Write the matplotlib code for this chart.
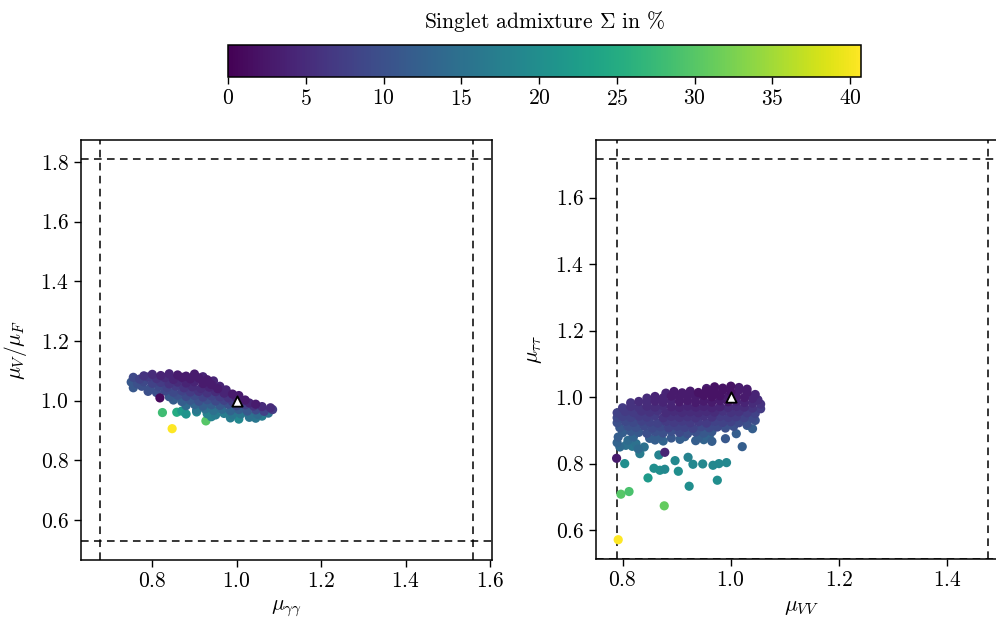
import numpy as np
import matplotlib
matplotlib.use("Agg")
import matplotlib.pyplot as plt

plt.rcParams["font.family"] = ["cmr10", "DejaVu Serif"]
plt.rcParams["mathtext.fontset"] = "cm"
plt.rcParams["axes.formatter.use_mathtext"] = True
plt.rcParams["font.size"] = 15.5

# ---- left panel: mu_gamgam vs mu_V/mu_F, colour = singlet admixture (%)
gg_x = [
    0.78, 0.80, 0.82, 0.84, 0.86, 0.88, 0.90, 0.92,
    0.755, 0.77, 0.79, 0.81, 0.83, 0.85, 0.87, 0.89, 0.91, 0.93, 0.945,
    0.75, 0.765, 0.78, 0.80, 0.82, 0.84, 0.86, 0.88, 0.90, 0.92, 0.94, 0.96,
    0.755, 0.775, 0.795, 0.815, 0.835, 0.855, 0.875, 0.895, 0.915, 0.935, 0.955, 0.975,
    0.79, 0.81, 0.83, 0.85, 0.87, 0.89, 0.91, 0.93, 0.95, 0.97, 0.99, 1.005,
    0.84, 0.86, 0.88, 0.90, 0.92, 0.94, 0.96, 0.98, 1.00, 1.02,
    0.85, 0.87, 0.89, 0.91, 0.93, 0.95, 0.97, 0.99, 1.01, 1.03, 1.045,
    0.88, 0.90, 0.92, 0.94, 0.96, 0.98, 1.00, 1.02, 1.04, 1.06, 1.08,
    0.905, 0.925, 0.945, 0.965, 0.985, 1.005, 1.025, 1.045, 1.065, 1.085,
    0.93, 0.95, 0.97, 0.99, 1.01, 1.03, 1.05,
    0.985, 1.005, 1.045,
    0.905, 0.94, 1.06, 1.03, 1.075,
    0.87, 0.88,
    0.818, 0.824, 0.858, 0.927, 0.847,
]
gg_y = [
    1.083, 1.088, 1.084, 1.090, 1.086, 1.082, 1.089, 1.080,
    1.078, 1.072, 1.079, 1.074, 1.077, 1.071, 1.078, 1.073, 1.076, 1.070, 1.066,
    1.062, 1.057, 1.063, 1.058, 1.061, 1.056, 1.062, 1.059, 1.063, 1.057, 1.054, 1.048,
    1.043, 1.048, 1.042, 1.047, 1.044, 1.049, 1.043, 1.046, 1.041, 1.045, 1.040, 1.036,
    1.031, 1.027, 1.032, 1.028, 1.033, 1.029, 1.031, 1.026, 1.030, 1.025, 1.022, 1.017,
    1.013, 1.018, 1.014, 1.017, 1.012, 1.016, 1.013, 1.010, 1.008, 1.002,
    1.002, 0.997, 1.001, 0.998, 1.003, 0.999, 1.001, 0.997, 0.995, 0.992, 0.988,
    0.983, 0.987, 0.982, 0.986, 0.984, 0.988, 0.983, 0.986, 0.982, 0.980, 0.976,
    0.968, 0.972, 0.967, 0.971, 0.966, 0.970, 0.965, 0.969, 0.964, 0.970,
    0.956, 0.952, 0.957, 0.953, 0.955, 0.950, 0.954,
    0.942, 0.938, 0.941,
    0.962, 0.946, 0.948, 0.944, 0.958,
    0.965, 0.955,
    1.009, 0.960, 0.961, 0.932, 0.906,
]
gg_s = [
    6, 5, 4, 4, 3, 3, 3, 4,
    9, 8, 7, 6, 5, 4, 3, 3, 3, 3, 4,
    11, 10, 9, 8, 7, 6, 5, 4, 4, 3, 3, 4,
    11, 10, 10, 9, 8, 7, 6, 5, 5, 4, 3, 4,
    10, 10, 9, 9, 8, 7, 6, 6, 5, 4, 3, 3,
    11, 10, 9, 9, 8, 8, 7, 6, 4, 3,
    12, 12, 11, 10, 10, 9, 8, 7, 6, 4, 3,
    14, 13, 12, 12, 11, 10, 9, 8, 6, 5, 5,
    16, 15, 15, 14, 13, 12, 11, 9, 8, 7,
    18, 17, 17, 16, 16, 15, 14,
    17, 19, 16,
    19, 18, 17, 16, 15,
    22, 21,
    1, 28, 25, 30, 40.7,
]

# ---- right panel: mu_VV vs mu_tautau
vv_x = [
    0.955, 0.97, 0.985, 1.0, 1.015, 1.03,
    0.88, 0.895, 0.91, 0.925, 0.94, 0.955, 0.97, 0.985, 1.0, 1.015, 1.03, 1.045,
    0.845, 0.86, 0.875, 0.89, 0.905, 0.92, 0.935, 0.95, 0.965, 0.98, 0.995, 1.01, 1.025, 1.04, 1.05,
    0.815, 0.83, 0.845, 0.86, 0.875, 0.89, 0.905, 0.92, 0.935, 0.95, 0.965, 0.98, 0.995, 1.01, 1.025, 1.04, 1.055,
    0.80, 0.815, 0.83, 0.845, 0.86, 0.875, 0.89, 0.905, 0.92, 0.935, 0.95, 0.965, 0.98, 0.995, 1.01, 1.025, 1.04, 1.055,
    0.79, 0.805, 0.82, 0.835, 0.85, 0.865, 0.88, 0.895, 0.91, 0.925, 0.94, 0.955, 0.97, 0.985, 1.0, 1.015, 1.03, 1.045,
    0.79, 0.80, 0.815, 0.83, 0.845, 0.86, 0.875, 0.89, 0.905, 0.92, 0.935, 0.95, 0.965, 0.98, 0.995, 1.01, 1.025, 1.04,
    0.79, 0.805, 0.82, 0.835, 0.85, 0.865, 0.88, 0.895, 0.91, 0.925, 0.94, 0.955, 0.97, 0.985, 1.0, 1.015, 1.03,
    0.795, 0.81, 0.825, 0.84, 0.855, 0.87, 0.885, 0.90, 0.915, 0.93, 0.945, 0.96, 0.975, 0.99, 1.005,
    0.80, 0.815, 0.83, 0.845, 0.86, 0.875, 0.89, 0.905, 0.92, 0.935, 0.95, 0.965,
    0.82, 0.85, 0.87, 0.89, 0.915, 0.94, 0.96,
    0.792, 0.79, 0.795, 0.789,
    0.81, 0.825, 0.84, 0.832, 0.829, 0.806, 0.818,
    0.86, 0.875, 0.906, 0.935, 0.95, 0.965, 0.99, 1.01, 1.03, 1.045, 1.04,
    0.804, 0.867, 0.878, 0.897, 0.921, 0.930, 0.948, 0.967, 0.978, 0.992, 1.021,
    0.858, 0.869, 0.878, 0.847, 0.903, 0.923, 0.975,
    0.797, 0.812, 0.877, 0.792,
]
vv_y = [
    1.026, 1.031, 1.027, 1.033, 1.029, 1.024,
    1.012, 1.017, 1.013, 1.018, 1.014, 1.019, 1.015, 1.020, 1.016, 1.021, 1.014, 1.008,
    0.997, 1.002, 0.998, 1.003, 0.999, 1.004, 1.000, 1.005, 1.001, 1.004, 1.000, 1.003, 0.999, 0.996, 0.992,
    0.983, 0.987, 0.984, 0.988, 0.985, 0.989, 0.986, 0.990, 0.984, 0.988, 0.985, 0.989, 0.986, 0.988, 0.984, 0.982, 0.979,
    0.968, 0.972, 0.969, 0.973, 0.970, 0.974, 0.971, 0.969, 0.973, 0.970, 0.972, 0.968, 0.971, 0.969, 0.972, 0.970, 0.967, 0.965,
    0.953, 0.957, 0.954, 0.958, 0.955, 0.959, 0.953, 0.957, 0.954, 0.956, 0.953, 0.957, 0.955, 0.958, 0.954, 0.956, 0.953, 0.951,
    0.938, 0.942, 0.939, 0.943, 0.940, 0.944, 0.938, 0.942, 0.939, 0.941, 0.938, 0.943, 0.940, 0.942, 0.939, 0.941, 0.938, 0.937,
    0.923, 0.927, 0.924, 0.928, 0.925, 0.922, 0.927, 0.924, 0.928, 0.923, 0.926, 0.922, 0.927, 0.924, 0.926, 0.923, 0.921,
    0.908, 0.912, 0.909, 0.913, 0.907, 0.911, 0.908, 0.912, 0.909, 0.906, 0.911, 0.908, 0.910, 0.907, 0.912,
    0.893, 0.897, 0.894, 0.891, 0.896, 0.892, 0.897, 0.894, 0.890, 0.895, 0.892, 0.896,
    0.880, 0.876, 0.882, 0.877, 0.881, 0.878, 0.883,
    0.880, 0.863, 0.850, 0.816,
    0.870, 0.860, 0.850, 0.830, 0.844, 0.855, 0.852,
    0.871, 0.868, 0.873, 0.869, 0.872, 0.867, 0.875, 0.890, 0.915, 0.930, 0.905,
    0.800, 0.826, 0.834, 0.809, 0.819, 0.798, 0.799, 0.795, 0.800, 0.803, 0.851,
    0.786, 0.780, 0.783, 0.757, 0.777, 0.732, 0.750,
    0.708, 0.716, 0.673, 0.571,
]
vv_s = [
    3, 2, 2, 2, 3, 3,
    4, 3, 3, 3, 2, 2, 2, 2, 2, 3, 3, 4,
    5, 4, 4, 3, 3, 3, 3, 2, 2, 2, 3, 3, 3, 4, 5,
    6, 5, 5, 4, 4, 4, 3, 3, 3, 3, 3, 3, 3, 4, 4, 5, 6,
    7, 6, 6, 5, 5, 5, 4, 4, 4, 4, 4, 4, 4, 5, 5, 5, 6, 7,
    8, 7, 7, 6, 6, 6, 5, 5, 5, 5, 5, 5, 5, 6, 6, 6, 7, 8,
    9, 8, 8, 7, 7, 7, 6, 6, 6, 6, 6, 6, 6, 7, 7, 7, 8, 9,
    10, 9, 9, 8, 8, 8, 7, 7, 7, 7, 7, 7, 8, 8, 8, 9, 10,
    11, 10, 10, 9, 9, 9, 8, 8, 8, 8, 9, 9, 9, 10, 10,
    12, 11, 11, 10, 10, 10, 10, 9, 10, 10, 11, 11,
    13, 12, 12, 11, 12, 12, 13,
    12, 13, 14, 3,
    14, 15, 15, 17, 14, 15, 16,
    12, 13, 12, 12, 13, 12, 11, 12, 11, 10, 12,
    20, 18, 4, 19, 18, 19, 19, 19, 19, 19, 12,
    20, 20, 19, 22, 20, 20, 20,
    30, 29, 31, 40.7,
]

# experimental bounds (dashed) and SM point
gg_bounds_x = [0.675, 1.56]
gg_bounds_y = [0.53, 1.81]
vv_bounds_x = [0.79, 1.475]
vv_bounds_y = [0.513, 1.716]
sm_point = (1.0, 1.0)

VMIN, VMAX = 0.0, 40.7

fig = plt.figure(figsize=(9.96, 6.19), dpi=100)
ax1 = fig.add_axes([0.0813, 0.0953, 0.4123, 0.6785])
ax2 = fig.add_axes([0.5984, 0.0969, 0.4127, 0.6777])
cax = fig.add_axes([0.2289, 0.8756, 0.6355, 0.0517])

panels = [
    (ax1, gg_x, gg_y, gg_s, gg_bounds_x, gg_bounds_y,
     r"$\mu_{\gamma\gamma}$", r"$\mu_V/\mu_F$", (0.631, 1.604), (0.466, 1.873)),
    (ax2, vv_x, vv_y, vv_s, vv_bounds_x, vv_bounds_y,
     r"$\mu_{VV}$", r"$\mu_{\tau\tau}$", (0.751, 1.51), (0.513, 1.775)),
]

for ax, x, y, s, bx, by, xl, yl, xlim, ylim in panels:
    order = np.argsort(s)[::-1]
    sc = ax.scatter(np.array(x)[order], np.array(y)[order], c=np.array(s)[order],
                    cmap="viridis", vmin=VMIN, vmax=VMAX, s=44, linewidths=0, zorder=2)
    for v in bx:
        ax.axvline(v, color="k", ls=(0, (5, 3.5)), lw=1.1, zorder=1)
    for v in by:
        ax.axhline(v, color="k", ls=(0, (5, 3.5)), lw=1.1, zorder=1)
    ax.scatter([sm_point[0]], [sm_point[1]], marker="^", s=55, facecolor="white",
               edgecolor="black", linewidths=1.3, zorder=3)
    ax.set_xlim(*xlim)
    ax.set_ylim(*ylim)
    ax.set_xlabel(xl, labelpad=5)
    ax.set_ylabel(yl, labelpad=8)
    ax.set_xticks([0.8, 1.0, 1.2, 1.4, 1.6] if ax is ax1 else [0.8, 1.0, 1.2, 1.4])
    ax.set_yticks([0.6, 0.8, 1.0, 1.2, 1.4, 1.6, 1.8] if ax is ax1 else [0.6, 0.8, 1.0, 1.2, 1.4, 1.6])
    ax.tick_params(direction="out", length=5, width=1.0)
    for sp in ax.spines.values():
        sp.set_linewidth(1.1)

cb = fig.colorbar(sc, cax=cax, orientation="horizontal")
cb.set_ticks([0, 5, 10, 15, 20, 25, 30, 35, 40])
cb.ax.set_title(r"Singlet admixture $\Sigma$ in $\%$", fontsize=15.5, pad=12)
cb.outline.set_linewidth(1.1)
cb.ax.tick_params(length=5, width=1.0)

fig.savefig("out.png", dpi=100)
